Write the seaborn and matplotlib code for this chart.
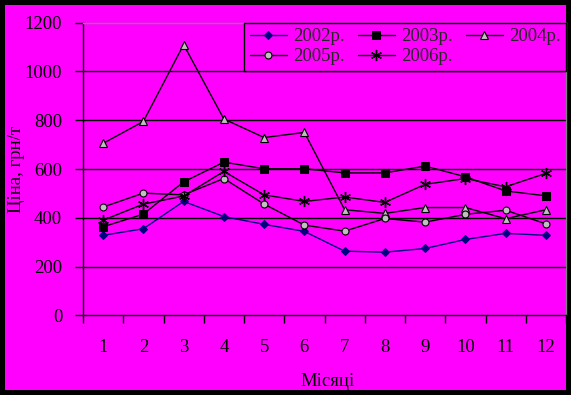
import matplotlib
matplotlib.use("Agg")
import matplotlib.pyplot as plt
from matplotlib.patches import Rectangle
from matplotlib.ticker import FixedLocator, NullFormatter
import seaborn as sns

# monthly prices, UAH per tonne
months = list(range(1, 13))
years = ["2002р.", "2003р.", "2004р.", "2005р.", "2006р."]
price_2002 = [328, 355, 467, 405, 373, 344, 263, 259, 274, 311, 336, 328]
price_2003 = [363, 415, 547, 628, 601, 601, 584, 584, 612, 568, 510, 490]
price_2004 = [705, 795, 1110, 805, 729, 750, 433, 418, 442, 442, 396, 433]
price_2005 = [444, 501, 494, 561, 456, 370, 345, 397, 382, 414, 431, 375]
price_2006 = [390, 456, 489, 590, 494, 467, 485, 463, 537, 561, 527, 582]
y_ticks = [0, 200, 400, 600, 800, 1000, 1200]

MAGENTA = "#ff00ff"
FS = 13.5
styles = {
    "2002р.": dict(color="#000080", marker="D", markersize=4.5,
                   markerfacecolor="#000080", markeredgecolor="#000080"),
    "2003р.": dict(color="black", marker="s", markersize=6,
                   markerfacecolor="black", markeredgecolor="black"),
    "2004р.": dict(color="black", marker="^", markersize=6,
                   markerfacecolor="#c0c0c0", markeredgecolor="black", markeredgewidth=0.8),
    "2005р.": dict(color="black", marker="o", markersize=5,
                   markerfacecolor="#c0c0c0", markeredgecolor="black", markeredgewidth=0.8),
    "2006р.": dict(color="black", marker=(6, 2, 0), markersize=8,
                   markeredgecolor="black", markeredgewidth=1),
}

sns.set_theme(style="white")
plt.rcParams["font.family"] = ["Liberation Serif", "DejaVu Serif"]

fig = plt.figure(figsize=(5.71, 3.95), dpi=100)
fig.patch.set_facecolor("black")
fig.patches.append(Rectangle((5 / 571, 5 / 395), 561 / 571, 385 / 395,
                             transform=fig.transFigure, facecolor=MAGENTA,
                             edgecolor="none", zorder=-10))

ax = fig.add_axes([83 / 571, 1 - 315.3 / 395, 483 / 571, 292.6 / 395])
ax.set_facecolor(MAGENTA)

series = [price_2002, price_2003, price_2004, price_2005, price_2006]
for name, vals in zip(years, series):
    sns.lineplot(x=months, y=vals, ax=ax, linewidth=1, label=name,
                 **styles[name])

ax.set_xlim(0.5, 12.5)
ax.set_ylim(0, 1200)
ax.set_yticks(y_ticks)
ax.set_xticks(months)
ax.xaxis.set_minor_locator(FixedLocator([m + 0.5 for m in range(0, 13)]))
ax.xaxis.set_minor_formatter(NullFormatter())
ax.tick_params(axis="x", which="major", length=0, pad=17, labelsize=FS, colors="black")
ax.tick_params(axis="x", which="minor", direction="out", length=6, width=1,
               color="black", bottom=True)
ax.tick_params(axis="y", direction="out", length=6, width=1, color="black",
               left=True, pad=9, labelsize=FS, labelcolor="black")

for v in y_ticks[1:-1]:
    ax.axhline(v, color="black", linewidth=1, zorder=1)

for side in ["left", "bottom"]:
    ax.spines[side].set_color("black")
    ax.spines[side].set_linewidth(1)
for side in ["top", "right"]:
    ax.spines[side].set_color("#808080")
    ax.spines[side].set_linewidth(1)

ax.set_ylabel("Ціна, грн/т", fontsize=FS, color="black")
ax.yaxis.set_label_coords(-0.12, 0.5)
ax.set_xlabel("Місяці", fontsize=FS, color="black")
ax.xaxis.set_label_coords(0.507, -0.197)

handles, labels = ax.get_legend_handles_labels()
order = [0, 3, 1, 4, 2]
leg = ax.legend([handles[i] for i in order], [labels[i] for i in order],
                ncol=3, loc="upper right", bbox_to_anchor=(0.3333, 0.835, 0.6667, 0.165),
                mode="expand", fontsize=FS, frameon=True, fancybox=False,
                facecolor=MAGENTA, edgecolor="black", borderaxespad=0,
                handlelength=2.0, handletextpad=0.3, columnspacing=1.0,
                labelspacing=0.15, borderpad=0.3)
leg.get_frame().set_linewidth(1)
leg.get_frame().set_alpha(1)

fig.savefig("out.png", dpi=100, facecolor=fig.get_facecolor())
